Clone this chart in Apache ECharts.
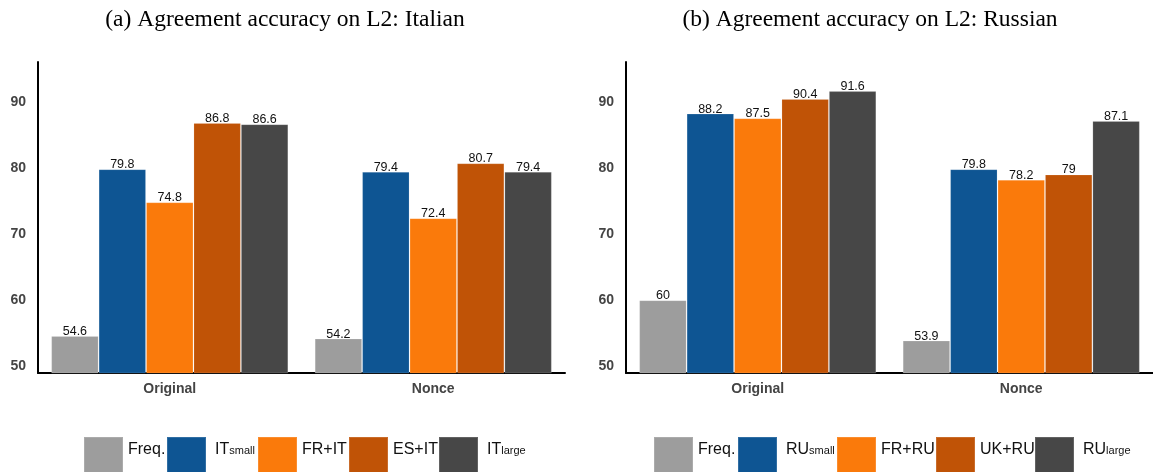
<!DOCTYPE html>
<html>
<head>
<meta charset="utf-8">
<script src="https://cdn.jsdelivr.net/npm/echarts@6/dist/echarts.min.js"></script>
<style>
  html, body { margin: 0; padding: 0; background: #fff; }
  #chart { width: 1153px; height: 472px; }
</style>
</head>
<body>
<div id="chart"></div>
<script>
// Data
const categories = ['Original', 'Nonce'];
const yTicks = [50, 60, 70, 80, 90];

const italianTitle = '(a) Agreement accuracy on L2: Italian';
const italianSeries = ['Freq.', 'IT_small', 'FR+IT', 'ES+IT', 'IT_large'];
const italianValues = [
  [54.6, 54.2],
  [79.8, 79.4],
  [74.8, 72.4],
  [86.8, 80.7],
  [86.6, 79.4]
];

const russianTitle = '(b) Agreement accuracy on L2: Russian';
const russianSeries = ['Freq.', 'RU_small', 'FR+RU', 'UK+RU', 'RU_large'];
const russianValues = [
  [60, 53.9],
  [88.2, 79.8],
  [87.5, 78.2],
  [90.4, 79],
  [91.6, 87.1]
];

// Styling
const colors = ['#9d9d9d', '#0e5593', '#fa7a0b', '#c05306', '#474747'];
const sans = "'Liberation Sans', Arial, sans-serif";
const serif = "'Liberation Serif', 'Times New Roman', serif";

const chart = echarts.init(document.getElementById('chart'), null, { renderer: 'canvas' });

// "IT_small" -> IT with a subscript "small"
function legendText(name) {
  const m = name.match(/^(.*)_(\w+)$/);
  return m ? '{m|' + m[1] + '}{sub|' + m[2] + '}' : '{m|' + name + '}';
}

function makeGrid(left) {
  return { left: left, top: 62, width: 527, height: 311, containLabel: false };
}

function makeX(gridIndex) {
  return {
    type: 'category', gridIndex: gridIndex, data: categories,
    axisLine: { lineStyle: { color: '#000', width: 2 } },
    axisTick: { show: false },
    axisLabel: { fontFamily: sans, fontSize: 14, fontWeight: 'bold', color: '#444', margin: 9 }
  };
}

function makeY(gridIndex) {
  return {
    type: 'value', gridIndex: gridIndex, min: 49, max: 96,
    axisLine: { show: true, lineStyle: { color: '#000', width: 2 } },
    axisTick: { show: false },
    splitLine: { show: false },
    axisLabel: {
      customValues: yTicks,
      fontFamily: sans, fontSize: 14, fontWeight: 'bold', color: '#444', margin: 12
    }
  };
}

function makeSeries(names, values, axisIndex) {
  return names.map((name, i) => ({
    type: 'bar', name: name,
    xAxisIndex: axisIndex, yAxisIndex: axisIndex,
    data: values[i],
    barGap: '0%', barCategoryGap: '10%',
    itemStyle: { color: colors[i], borderColor: 'rgba(255,255,255,0.15)', borderWidth: 1 },
    label: {
      show: true, position: 'top', distance: -2,
      fontFamily: sans, fontSize: 12.5, color: '#111'
    },
    emphasis: { disabled: true },
    animation: false
  }));
}

function makeLegends(names, lefts) {
  return names.map((name, i) => ({
    data: [name], left: lefts[i], top: 436, padding: 0,
    itemWidth: 39, itemHeight: 40, icon: 'rect', selectedMode: false,
    formatter: legendText,
    textStyle: {
      color: '#111', fontFamily: sans, fontSize: 16,
      padding: [0, 0, 12, name.includes('_') ? 4 : 0],
      rich: {
        m: { fontFamily: sans, fontSize: 16, color: '#111', padding: [0, 0, 3, 0] },
        sub: { fontFamily: sans, fontSize: 11, color: '#111' }
      }
    }
  }));
}

const titleStyle = { fontFamily: serif, fontSize: 23.5, fontWeight: 'normal', color: '#000' };

const option = {
  backgroundColor: '#fff',
  animation: false,
  title: [
    { text: italianTitle, left: 285, top: 8, padding: 0, textAlign: 'center', textStyle: titleStyle },
    { text: russianTitle, left: 870, top: 8, padding: 0, textAlign: 'center', textStyle: titleStyle }
  ],
  grid: [makeGrid(38), makeGrid(626)],
  xAxis: [makeX(0), makeX(1)],
  yAxis: [makeY(0), makeY(1)],
  legend: makeLegends(italianSeries, [83, 166, 257, 348, 438])
    .concat(makeLegends(russianSeries, [653, 737, 836, 935, 1034])),
  series: makeSeries(italianSeries, italianValues, 0)
    .concat(makeSeries(russianSeries, russianValues, 1))
};

chart.setOption(option);
</script>
</body>
</html>
